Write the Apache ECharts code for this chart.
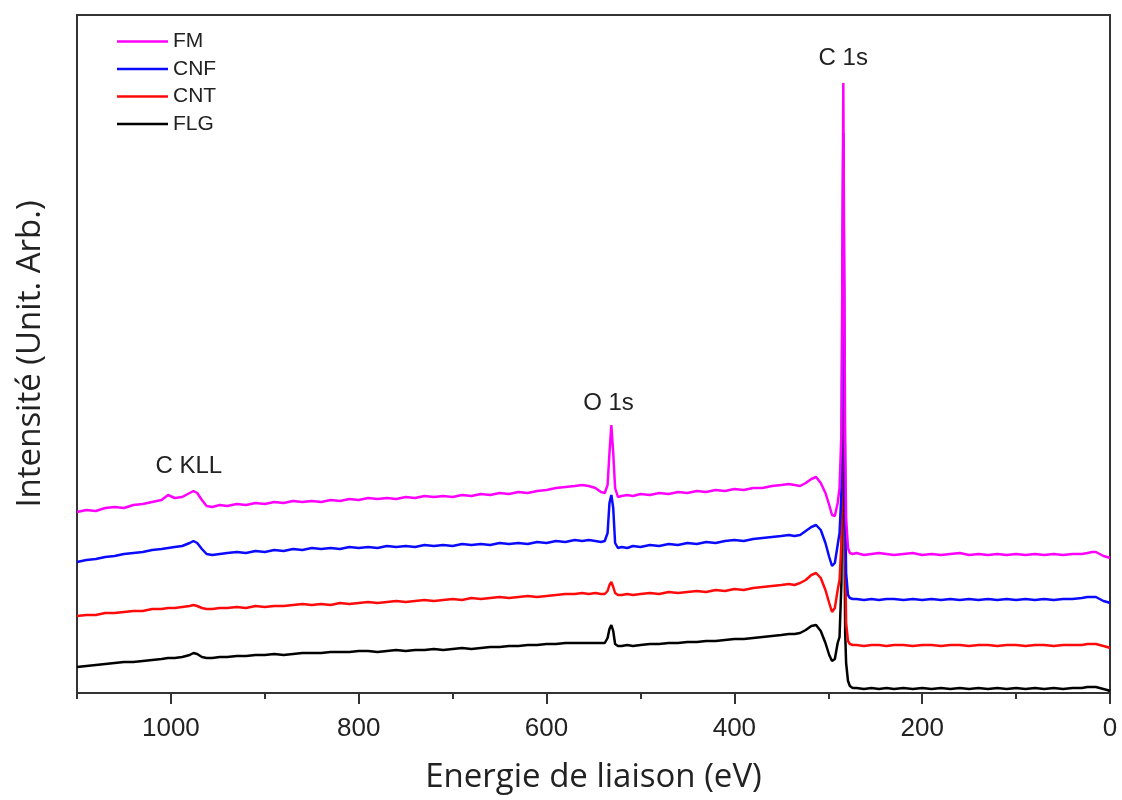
<!DOCTYPE html>
<html>
<head>
<meta charset="utf-8">
<script src="https://cdn.jsdelivr.net/npm/echarts@6/dist/echarts.min.js"></script>
<style>html,body{margin:0;padding:0;background:#fff}#c{width:1122px;height:800px}</style>
</head>
<body>
<div id="c"></div>
<script>
// Binding energy (eV), shared by all spectra
const energy = [
1100,1090,1080,1070,1060,1050,1040,1030,1020,1010,
1003,996,988,980,976,972,967,962,956,948,
940,930,920,910,900,890,880,870,860,850,
840,830,820,810,800,790,780,770,760,750,
740,730,720,710,700,690,680,670,660,650,
640,630,620,610,600,590,580,570,562,555,
548,542,538,535,533,531,529,527,524,520,
514,508,500,490,480,470,460,450,440,430,
420,410,400,390,380,370,360,350,342,336,
330,324,318,313,308,303,299,296,293,290,
288,286,285,284,283,282,281,279,277,274,
270,262,254,246,238,230,220,210,200,190,
180,170,160,150,140,130,120,110,100,90,
80,70,60,50,40,30,24,19,15,11,
7,3,0];

const FM = [
181,183,182,185,186,185,188,189,191,193,
198,195,196,200,202,200,193,187,186,188,
187,189,188,190,189,191,190,192,191,192,
191,193,192,194,193,195,194,195,194,196,
195,197,196,197,196,198,197,199,198,200,
199,201,200,202,203,205,206,207,208,207,
205,201,200,208,240,268,240,205,196,197,
198,197,199,198,200,199,201,200,202,201,
203,202,204,203,205,205,207,208,209,208,
207,210,214,216,210,200,188,178,177,190,
205,260,420,610,420,250,175,145,140,139,
140,138,139,140,139,138,139,140,138,139,
138,139,140,138,139,138,139,138,139,138,
139,138,139,138,139,139,140,141,141,139,
137,136,135];

const CNF = [
131,133,134,136,137,139,140,141,143,144,
145,146,147,150,152,150,144,139,138,139,
140,141,140,142,141,143,142,144,143,145,
144,145,144,146,145,146,145,147,146,147,
146,148,147,148,147,149,148,149,148,150,
149,150,149,151,150,152,151,153,152,153,
152,151,152,160,190,198,185,150,145,146,
145,147,146,148,147,149,148,150,149,151,
150,152,153,152,154,155,156,157,158,157,
158,162,166,168,163,150,136,127,130,148,
160,200,380,560,380,190,120,98,95,94,
94,93,94,93,94,94,93,94,93,94,
93,94,93,94,93,94,93,94,93,94,
93,94,93,94,94,95,96,96,96,94,
92,91,90];

const CNT = [
77,78,78,80,80,81,82,82,84,84,
85,85,86,87,88,87,85,84,84,85,
85,86,85,87,86,87,87,88,89,88,
89,88,90,89,90,91,90,91,92,91,
92,93,92,93,94,93,95,94,95,96,
95,96,97,96,97,98,99,99,100,99,
100,99,99,102,108,111,106,100,98,98,
99,98,99,100,99,101,100,101,102,101,
103,102,104,103,105,106,107,108,109,108,
110,113,118,120,115,103,90,81,85,103,
113,150,300,420,300,140,70,52,49,48,
48,47,48,48,47,48,48,47,48,48,
47,48,48,47,48,48,47,48,48,47,
48,48,47,48,48,48,49,49,49,48,
47,46,45];

const FLG = [
26,27,28,29,30,31,31,32,33,34,
35,35,36,38,40,39,36,35,35,36,
36,37,37,38,38,39,38,39,40,40,
40,41,41,41,42,42,41,42,43,42,
43,43,44,43,44,45,44,45,46,46,
47,47,48,48,49,49,50,50,50,50,
50,50,50,55,64,68,62,49,47,47,
48,47,48,49,49,50,50,51,51,52,
52,53,54,54,55,56,57,58,59,59,
60,63,67,68,62,50,38,32,34,50,
56,110,250,320,200,60,30,12,7,5,
5,4,5,4,5,4,5,4,5,4,
5,4,5,4,5,4,5,4,5,4,
5,4,5,4,5,5,6,6,6,5,
4,3,2];

const seriesNames = ['FM','CNF','CNT','FLG'];
const seriesValues = [FM, CNF, CNT, FLG];
const seriesColors = ['#ff00ff','#0a0aff','#ff0a0a','#000000'];

const majorTicks = [0,200,400,600,800,1000];

// Peak annotations: [text, energy, intensity]
const annotations = [['C 1s',284,635],['O 1s',534,290],['C KLL',981,227]];

const chart = echarts.init(document.getElementById('c'), null, {renderer:'canvas'});

const series = seriesNames.map((n,i)=>({
  name:n, type:'line', symbol:'none', showSymbol:false,
  xAxisIndex:0, yAxisIndex:0,
  data: energy.map((e,j)=>[e, seriesValues[i][j]]),
  lineStyle:{color:seriesColors[i], width:2.5},
  itemStyle:{color:seriesColors[i]},
  z: 2 + (3-i),
  animation:false
})).reverse();

chart.setOption({
  animation:false,
  grid:{left:77, right:12, top:15, bottom:107, show:true, borderColor:'#333', borderWidth:2, containLabel:false},
  legend:{
    data:seriesNames, orient:'vertical', left:117, top:31, padding:0,
    icon:'rect', itemWidth:51, itemHeight:2.5, itemGap:6.5,
    textStyle:{fontFamily:'Liberation Sans, Arial', fontSize:21, color:'#222'}
  },
  xAxis:[{
    type:'value', inverse:true, min:0, max:1100, interval:200, position:'bottom',
    axisLine:{show:true, lineStyle:{color:'#333', width:2}},
    axisTick:{show:true, length:11, customValues:majorTicks, lineStyle:{color:'#333', width:2}},
    axisLabel:{customValues:majorTicks, formatter:v=>String(v), fontFamily:'Liberation Sans, Arial', fontSize:26, color:'#222', margin:23},
    splitLine:{show:false},
    name:'Energie de liaison (eV)', nameLocation:'middle', nameGap:68,
    nameTextStyle:{fontFamily:'Open Sans', fontSize:33, color:'#222'}
  },{
    type:'value', inverse:true, min:0, max:1100, interval:100, position:'bottom',
    axisLine:{show:false}, axisLabel:{show:false}, splitLine:{show:false},
    axisTick:{show:true, length:6, lineStyle:{color:'#333', width:2}}
  }],
  yAxis:{
    type:'value', min:0, max:678,
    axisLine:{show:true, lineStyle:{color:'#333', width:2}},
    axisTick:{show:false}, axisLabel:{show:false}, splitLine:{show:false},
    name:'Intensité (Unit. Arb.)', nameLocation:'middle', nameGap:30,
    nameTextStyle:{fontFamily:'Open Sans', fontSize:33, color:'#222'}
  },
  series: series
});

const g = annotations.map(a=>{
  const p = chart.convertToPixel({xAxisIndex:0, yAxisIndex:0}, [a[1], a[2]]);
  return {type:'text', x:p[0], y:p[1], z:100,
    style:{text:a[0], fontFamily:'Liberation Sans, Arial', fontSize:24, fill:'#222', align:'center', verticalAlign:'middle'}};
});
chart.setOption({graphic:g});
</script>
</body>
</html>
